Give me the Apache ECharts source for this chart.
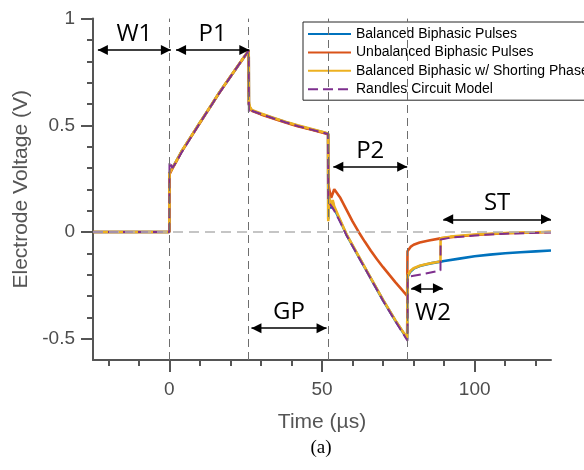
<!DOCTYPE html>
<html><head><meta charset="utf-8">
<script src="https://cdn.jsdelivr.net/npm/echarts@6/dist/echarts.min.js"></script>
<style>html,body{margin:0;padding:0;background:#fff}#c{width:584px;height:470px}</style>
</head><body><div id="c"></div>
<script>
// ---------- data ----------
const seriesNames = ['Balanced Biphasic Pulses','Unbalanced Biphasic Pulses','Balanced Biphasic w/ Shorting Phase','Randles Circuit Model'];

const tBlue = [-25,0,0.05,1,2,4,6,8,10,12,14,16,18,20,22,24,26,26.05,26.3,27,30,34,38,42,46,50,52,52.05,52.3,53,53.5,54,56,58,62,66,70,74,77.9,78,79,80,82,84,86,88.8,90,95,100,105,110,115,120,125];
const vBlue = [0,0,0.275,0.3,0.325,0.377,0.422,0.467,0.512,0.556,0.6,0.645,0.687,0.728,0.769,0.81,0.85,0.6,0.585,0.57,0.553,0.534,0.515,0.498,0.483,0.468,0.46,0.06,0.16,0.11,0.14,0.11,0.05,-0.012,-0.115,-0.218,-0.32,-0.415,-0.5,-0.21,-0.185,-0.172,-0.16,-0.152,-0.146,-0.139,-0.136,-0.125,-0.114,-0.106,-0.1,-0.095,-0.091,-0.087];

const tOrange = [-25,0,0.05,1,2,4,6,8,10,12,14,16,18,20,22,24,26,26.05,26.3,27,30,34,38,42,46,50,52,52.05,53,54,56,58,60,62,64,66,68,70,72,74,76,77.9,78,79,80,82,85,88.8,95,100,110,125];
const vOrange = [0,0,0.27,0.297,0.323,0.376,0.421,0.466,0.511,0.555,0.599,0.644,0.686,0.727,0.768,0.809,0.849,0.6,0.583,0.568,0.551,0.532,0.513,0.496,0.481,0.466,0.458,0.22,0.16,0.2,0.16,0.105,0.05,0.0,-0.045,-0.088,-0.128,-0.165,-0.2,-0.235,-0.268,-0.3,-0.09,-0.07,-0.06,-0.049,-0.04,-0.03,-0.02,-0.014,-0.006,0.0];

const tYellow = [-25,0,0.05,1,2,4,6,8,10,12,14,16,18,20,22,24,26,26.05,26.3,27,30,34,38,42,46,50,52,52.05,52.3,53,53.5,54,56,58,62,66,70,74,77.9,78,79,80,82,84,86,88.8,88.85,92,95,100,105,110,115,120,125];
const vYellow = [0,0,0.275,0.3,0.325,0.378,0.423,0.468,0.513,0.557,0.601,0.646,0.688,0.729,0.77,0.811,0.852,0.61,0.588,0.572,0.555,0.535,0.517,0.5,0.485,0.47,0.462,0.05,0.165,0.12,0.15,0.12,0.055,-0.01,-0.113,-0.216,-0.318,-0.413,-0.498,-0.205,-0.182,-0.17,-0.158,-0.151,-0.145,-0.138,-0.03,-0.022,-0.018,-0.012,-0.008,-0.005,-0.003,-0.001,0.001];

const tModel = [-25,0,0.05,1,2,4,8,12,16,20,24,26,26.05,27,30,34,38,42,46,50,52,52.05,54,56,58,62,66,70,74,78,78.05,80,84,88.8,88.85,92,100,110,125];
const vModel = [0,0,0.33,0.3,0.322,0.372,0.465,0.555,0.643,0.727,0.81,0.85,0.557,0.568,0.553,0.533,0.514,0.497,0.482,0.467,0.459,0.145,0.1,0.045,-0.015,-0.118,-0.22,-0.322,-0.418,-0.51,-0.21,-0.205,-0.195,-0.18,-0.035,-0.027,-0.016,-0.008,-0.002];

const xMinorTicks = [-20,-10,0,10,20,30,40,50,60,70,80,90,100,110,120];
const xMajorTicks = [0,50,100];
const yMinorTicks = [-0.5,-0.4,-0.3,-0.2,-0.1,0,0.1,0.2,0.3,0.4,0.5,0.6,0.7,0.8,0.9,1];
const yMajorTicks = [-0.5,0,0.5,1];

const phaseBoundaries = [0,26,52,78];
const arrowNames = ['W1','P1','P2','GP','W2','ST'];
const arrowFrom  = [-23.4, 2.2, 53.7, 26.9, 79.2, 89.7];
const arrowTo    = [0.5, 26.2, 77.9, 51.5, 89.6, 125];
const arrowLevel = [0.853, 0.853, 0.306, -0.451, -0.264, 0.0595];

// ---------- chart ----------
const colors = ['#0072BD','#D95319','#EDB120','#7E2F8E'];
const axisColor = '#555';
const tickFont = 'Liberation Sans';
const pairs = (t, v) => t.map((x, i) => [x, v[i]]);

const arrowData = arrowNames.map((n, i) => {
  const below = n === 'W2';
  return [
    { coord: [arrowFrom[i], arrowLevel[i]], name: n,
      label: below ? { position: 'insideMiddleBottom', distance: 13, padding: [0,0,0,12] }
                   : { position: 'insideMiddleTop', distance: 4 } },
    { coord: [arrowTo[i], arrowLevel[i]] }
  ];
});

const chart = echarts.init(document.getElementById('c'));
const mkX = (ticks, len, showLine, showLabel) => ({
  type: 'value', min: -25, max: 125, position: 'bottom',
  axisLine: { show: showLine, onZero: false, lineStyle: { color: axisColor, width: 2 } },
  axisTick: { show: true, customValues: ticks, length: len, lineStyle: { color: axisColor, width: 2 } },
  axisLabel: { show: showLabel, customValues: xMajorTicks, margin: 20, color: '#4d4d4d', fontSize: 19, fontFamily: tickFont },
  splitLine: { show: false }
});
const mkY = (ticks, len, showLine, showLabel) => ({
  type: 'value', min: -0.6, max: 1, position: 'left',
  axisLine: { show: showLine, onZero: false, lineStyle: { color: axisColor, width: 2 } },
  axisTick: { show: true, customValues: ticks, length: len, lineStyle: { color: axisColor, width: 2 } },
  axisLabel: { show: showLabel, customValues: yMajorTicks, margin: 18, color: '#4d4d4d', fontSize: 19, fontFamily: tickFont },
  splitLine: { show: false }
});
const x0 = mkX(xMinorTicks, 6, true, true);
x0.name = 'Time (µs)'; x0.nameLocation = 'middle'; x0.nameGap = 52;
x0.nameTextStyle = { color: '#555', fontSize: 21, fontFamily: tickFont };
const y0 = mkY(yMinorTicks, 6, true, true);
y0.name = 'Electrode Voltage (V)'; y0.nameLocation = 'middle'; y0.nameGap = 52;
y0.nameTextStyle = { color: '#555', fontSize: 21, fontFamily: tickFont };

const lineSeries = (i, t, v, extra) => Object.assign({
  type: 'line', name: seriesNames[i], data: pairs(t, v),
  xAxisIndex: 0, yAxisIndex: 0, showSymbol: false, symbol: 'none',
  lineStyle: { color: colors[i], width: 2.6 }, itemStyle: { color: colors[i] },
  animation: false, silent: true
}, extra || {});

chart.setOption({
  animation: false,
  grid: { left: 93, right: 33, top: 18.6, bottom: 110 },
  xAxis: [x0, mkX(xMajorTicks, 12, false, false)],
  yAxis: [y0, mkY(yMajorTicks, 12, false, false)],
  legend: {
    data: seriesNames, orient: 'vertical', left: 303, top: 22,
    itemWidth: 43, itemHeight: 14, itemGap: 4.4, padding: [5, 6, 4, 4],
    borderColor: '#262626', borderWidth: 1, borderRadius: 0, backgroundColor: '#fff',
    itemStyle: { opacity: 0 },
    textStyle: { fontFamily: tickFont, fontSize: 14, color: '#000', lineHeight: 14 },
    selectedMode: false
  },
  series: [
    lineSeries(0, tBlue, vBlue, {
      markLine: {
        silent: true, symbol: ['none', 'none'], label: { show: false }, animation: false,
        data: phaseBoundaries.map(x => ({ xAxis: x, lineStyle: { color: '#6e6e6e', width: 1, type: [8, 5] } }))
          .concat([{ yAxis: 0, lineStyle: { color: '#b3b3b3', width: 1.5, type: [10, 6] } }])
      }
    }),
    lineSeries(1, tOrange, vOrange),
    lineSeries(2, tYellow, vYellow),
    lineSeries(3, tModel, vModel, {
      lineStyle: { color: colors[3], width: 2, type: [10, 5] },
      markLine: {
        silent: true, animation: false,
        symbol: ['triangle', 'triangle'], symbolSize: [10, 10], symbolOffset: [[0, 5], [0, 5]],
        lineStyle: { color: '#000', width: 1.5, type: 'solid' },
        label: { show: true, formatter: '{b}', color: '#000', fontSize: 24, fontFamily: 'Open Sans' },
        data: arrowData
      }
    })
  ],
  graphic: [{
    type: 'text', x: 321, y: 448,
    style: { text: '(a)', fill: '#000', font: '19px "Liberation Serif"', textAlign: 'center', textVerticalAlign: 'middle' }
  }]
});
</script></body></html>
